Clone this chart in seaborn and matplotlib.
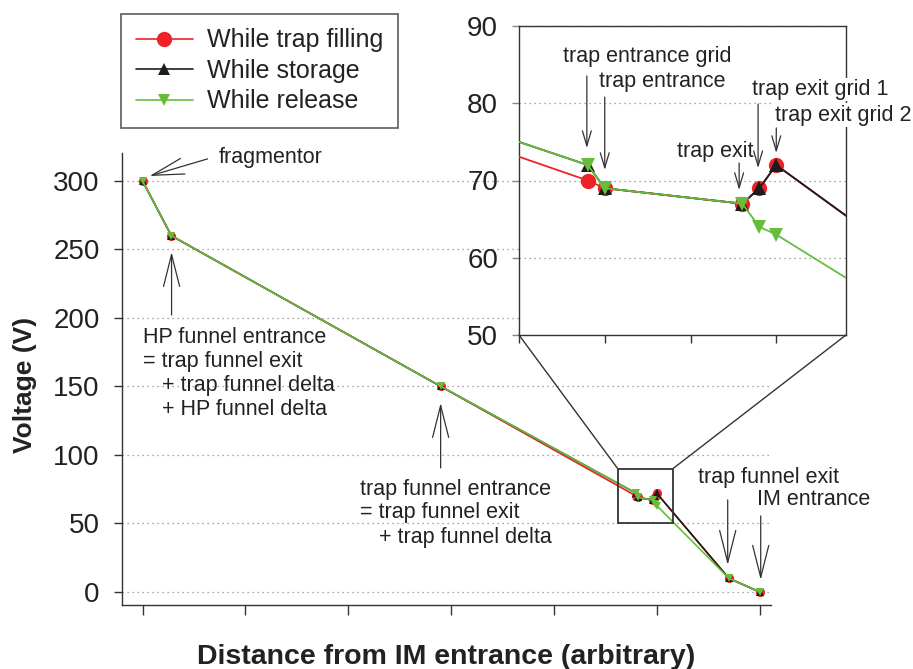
import matplotlib
matplotlib.use("Agg")
import matplotlib.pyplot as plt
import seaborn as sns
from matplotlib.lines import Line2D
from matplotlib.patches import Rectangle, ConnectionPatch

# ---------------- data ----------------
positions = [0.0, 0.28, 2.90, 4.800, 4.818, 4.964, 4.982, 5.0, 5.70, 6.0]
filling = [300, 260, 150, 70, 69, 67, 69, 72, 10, 0]
storage = [300, 260, 150, 72, 69, 67, 69, 72, 10, 0]
release = [300, 260, 150, 72, 69, 67, 64, 63, 10, 0]
series_names = ["While trap filling", "While storage", "While release"]
main_yticks = [0, 50, 100, 150, 200, 250, 300]
main_xticks = [0, 1, 2, 3, 4, 5, 6]
inset_yticks = [50, 60, 70, 80, 90]
inset_xticks = [4.727, 4.818, 4.909, 5.0]

RED = "#EE2127"
BLACK = "#1c1c1c"
GREEN = "#66BD3C"
AX = "#333333"
TXT = "#222222"

sns.set_theme(style="white")
plt.rcParams["font.family"] = ["Liberation Sans", "DejaVu Sans"]
plt.rcParams["text.color"] = TXT

fig = plt.figure(figsize=(9.13, 6.69), dpi=100)
ax = fig.add_axes([122 / 913, 1 - 605 / 669, 649 / 913, 452 / 669])

series = [(filling, RED, "o"), (storage, BLACK, "^"), (release, GREEN, "v")]


def draw_series(a, ms_scale, lw):
    for vals, col, mk in series:
        ms = {"o": 11, "^": 9.5, "v": 9.5}[mk] * ms_scale
        sns.lineplot(x=positions, y=vals, ax=a, color=col, marker=mk,
                     markersize=ms, markeredgewidth=0, linewidth=lw,
                     sort=False, estimator=None, legend=False, zorder=3)


draw_series(ax, 0.6, 1.2)
ax.set_xlim(-0.2, 6.11)
ax.set_ylim(-9.5, 320.4)
ax.set_yticks(main_yticks)
ax.set_xticks(main_xticks)
ax.set_xticklabels([])
ax.yaxis.grid(True, linestyle=(0, (1, 3)), color="#8a8a8a", linewidth=0.9)
ax.xaxis.grid(False)
ax.set_axisbelow(True)
for s in ["top", "right"]:
    ax.spines[s].set_visible(False)
for s in ["left", "bottom"]:
    ax.spines[s].set_color(AX)
    ax.spines[s].set_linewidth(1.0)
ax.tick_params(axis="y", left=True, length=6, width=1, color=AX, pad=10,
               labelsize=20, labelcolor=TXT)
ax.tick_params(axis="x", bottom=True, length=7, width=1, color=AX)
ax.set_ylabel("Voltage (V)", fontsize=19, fontweight="bold", color=TXT)
ax.yaxis.set_label_coords(-0.131, 0.487)
ax.set_xlabel("Distance from IM entrance (arbitrary)", fontsize=20.5,
              fontweight="bold", color=TXT)
ax.xaxis.set_label_coords(0.5, -0.086)


def arrow(a, tail, tip, hl, hw):
    a.annotate("", xy=tip, xytext=tail, xycoords="data", textcoords="data",
               annotation_clip=False,
               arrowprops=dict(arrowstyle=f"->,head_length={hl},head_width={hw}",
                               mutation_scale=1, lw=0.9, color=AX,
                               shrinkA=0, shrinkB=0))


def label(a, x, y, s, **kw):
    a.text(x, y, s, fontsize=15.5, ha="left", va="baseline", color=TXT, **kw)


BIG = (23, 5.8)
SMALL = (10.8, 3.2)

# main annotations
label(ax, 0.739, 313.1, "fragmentor")
arrow(ax, (0.632, 316.1), (0.068, 303.6), *BIG)

label(ax, 0.0, 181.8, "HP funnel entrance")
label(ax, 0.0, 163.9, "= trap funnel exit")
label(ax, 0.185, 146.7, "+ trap funnel delta")
label(ax, 0.185, 129.2, "+ HP funnel delta")
arrow(ax, (0.282, 202.2), (0.282, 248.2), *BIG)

label(ax, 2.110, 70.8, "trap funnel entrance")
label(ax, 2.110, 54.0, "= trap funnel exit")
label(ax, 2.295, 35.8, "+ trap funnel delta")
arrow(ax, (2.898, 90.5), (2.898, 138.0), *BIG)

label(ax, 5.397, 79.6, "trap funnel exit")
arrow(ax, (5.689, 67.2), (5.689, 19.7), *BIG)
label(ax, 5.971, 63.5, "IM entrance")
arrow(ax, (6.01, 55.5), (6.01, 8.8), *BIG)

# zoom box in main axes
ax.add_patch(Rectangle((4.62, 50), 0.536, 40, fill=False, ec=AX, lw=1.3,
                       zorder=6))

# ---------------- inset ----------------
axins = fig.add_axes([519 / 913, 1 - 335 / 669, 327 / 913, 309 / 669])
axins.set_facecolor("white")
draw_series(axins, 1.0, 1.3)
axins.set_xlim(4.727, 5.074)
axins.set_ylim(50, 90)
axins.set_yticks(inset_yticks)
axins.set_xticks(inset_xticks)
axins.set_xticklabels([])
axins.yaxis.grid(True, linestyle=(0, (1, 3)), color="#8a8a8a", linewidth=0.9)
axins.xaxis.grid(False)
axins.set_axisbelow(True)
for s in axins.spines.values():
    s.set_visible(True)
    s.set_color(AX)
    s.set_linewidth(1.0)
axins.tick_params(axis="y", left=True, length=5, width=1, color="#888888",
                  pad=10, labelsize=20, labelcolor=TXT)
axins.tick_params(axis="x", bottom=True, length=6, width=1, color=AX)

label(axins, 4.7737, 85.3, "trap entrance grid")
arrow(axins, (4.799, 83.53), (4.799, 74.2), *SMALL)
label(axins, 4.812, 82.1, "trap entrance")
arrow(axins, (4.818, 80.8), (4.818, 71.36), *SMALL)
label(axins, 4.8947, 73.04, "trap exit")
arrow(axins, (4.9606, 72.27), (4.9606, 68.77), *SMALL)
label(axins, 4.9743, 81.07, "trap exit grid 1",
      bbox=dict(fc="white", ec="none", pad=1.0))
arrow(axins, (4.9807, 79.9), (4.9807, 71.6), *SMALL)
label(axins, 4.9988, 77.74, "trap exit grid 2",
      bbox=dict(fc="white", ec="none", pad=1.0))
arrow(axins, (5.0, 76.8), (5.0, 73.56), *SMALL)

# connector lines
for xa, xb in [(4.62, 0), (5.156, 1)]:
    con = ConnectionPatch(xyA=(xa, 90), coordsA=ax.transData,
                          xyB=(xb, 0), coordsB=axins.transAxes,
                          color=AX, lw=1.0)
    fig.add_artist(con)

# ---------------- legend ----------------
handles = [
    Line2D([], [], color=RED, marker="o", markersize=11, markeredgewidth=0, lw=1.2),
    Line2D([], [], color=BLACK, marker="^", markersize=9, markeredgewidth=0, lw=1.2),
    Line2D([], [], color=GREEN, marker="v", markersize=9, markeredgewidth=0, lw=1.2),
]
leg = fig.legend(handles, series_names, loc="upper left",
                 bbox_to_anchor=(121 / 913, 1 - 14 / 669), fontsize=18,
                 frameon=True, fancybox=False, edgecolor=AX,
                 handlelength=2.3, handletextpad=0.55, labelspacing=0.26,
                 borderpad=0.58, borderaxespad=0)
leg.get_frame().set_linewidth(1.2)
for t in leg.get_texts():
    t.set_color(TXT)

fig.savefig("out.png", dpi=100)
